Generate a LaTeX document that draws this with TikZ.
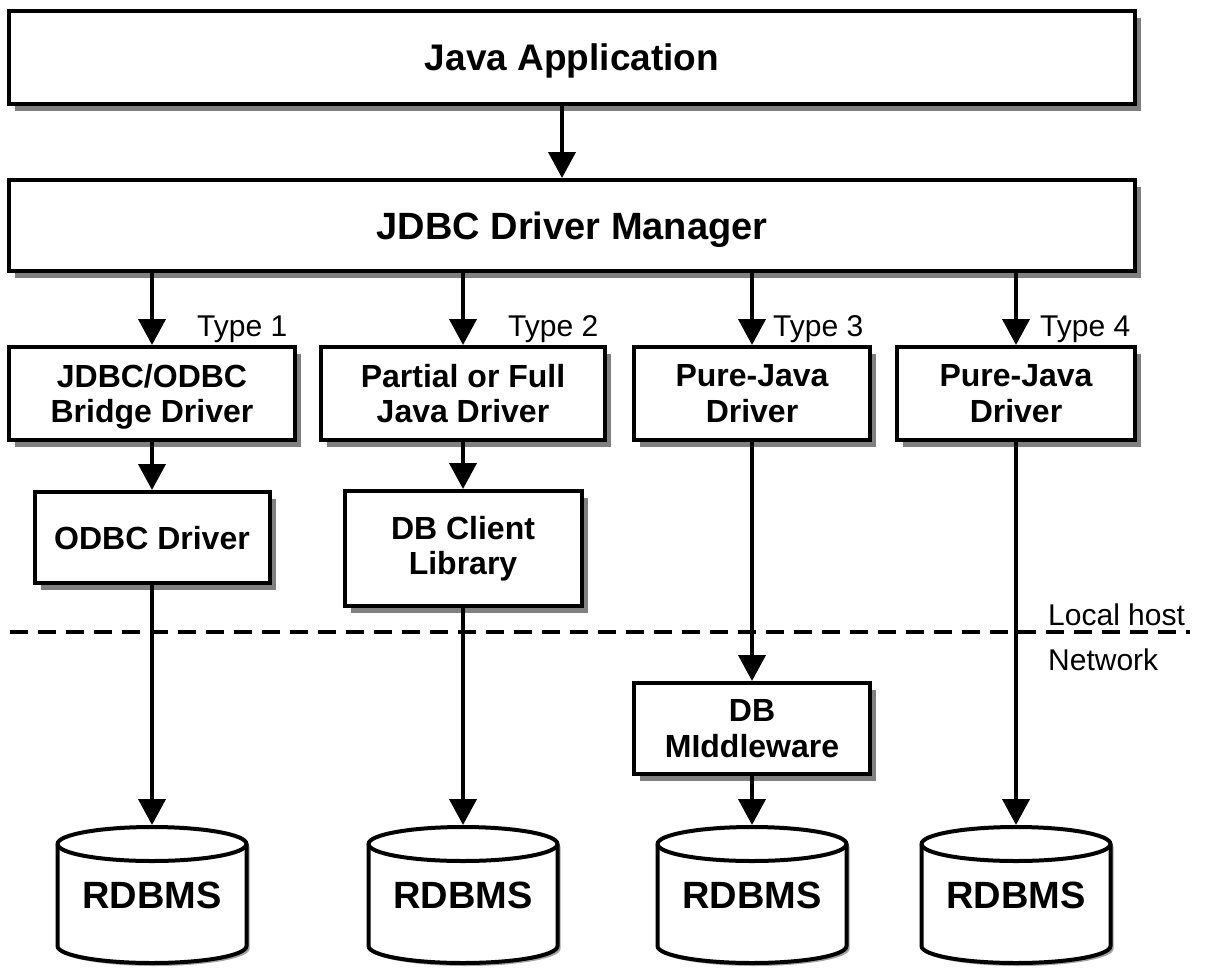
\documentclass[tikz,border=0pt]{standalone}
\usepackage{fontspec}
\setmainfont{Liberation Sans}
\usetikzlibrary{arrows.meta,shadows,backgrounds}
\begin{document}
\begin{tikzpicture}[x=1pt,y=1pt,
  box/.style={draw=black, line width=4pt, fill=white, inner sep=0pt, align=center,
     text depth=0pt,
     font=\bfseries\fontsize{32}{35.5}\selectfont,
     drop shadow={shadow xshift=6pt, shadow yshift=-7pt, opacity=1, fill=black!50}},
  bigbox/.style={box, font=\bfseries\fontsize{37}{40}\selectfont},
  db/.style={inner sep=0pt, outer sep=0pt, minimum width=193pt, minimum height=140pt,
     font=\bfseries\fontsize{38}{40}\selectfont},
  tlabel/.style={inner sep=0pt, anchor=base west, font=\fontsize{30}{34}\selectfont},
  conn/.style={line width=4pt, -{Triangle[length=26pt,width=27pt]}},
  cylline/.style={line width=4pt, fill=white},
  sepline/.style={line width=4pt, dash pattern=on 18pt off 10pt}
]
\useasboundingbox (0,0) rectangle (1208,-967);

% top boxes
\node[bigbox, minimum width=1126pt, minimum height=93pt] (app) at (572,-57.5) {Java Application};
\node[bigbox, minimum width=1126pt, minimum height=91pt, font=\bfseries\fontsize{38}{40}\selectfont] (mgr) at (572,-225.5) {JDBC Driver Manager};

% driver boxes
\node[box, minimum width=286pt, minimum height=93pt] (t1) at (152,-393.5) {JDBC/ODBC\\Bridge Driver};
\node[box, minimum width=284pt, minimum height=93pt] (t2) at (463,-393.5) {Partial or Full\\Java Driver};
\node[box, minimum width=236pt, minimum height=93pt] (t3) at (752,-393.5) {Pure-Java\\Driver};
\node[box, minimum width=238pt, minimum height=93pt] (t4) at (1016,-393.5) {Pure-Java\\Driver};

% second level
\node[box, minimum width=235pt, minimum height=91pt] (odbc) at (152,-537.5) {ODBC Driver};
\node[box, minimum width=237pt, minimum height=115pt, text depth=6pt] (dbc) at (463,-548.5) {DB Client\\Library};
\node[box, minimum width=236pt, minimum height=91pt] (mid) at (752,-728.5) {DB\\MIddleware};

% databases
\node[db] (db1) at (152,-895) {\raisebox{-7pt}{RDBMS}};
\node[db] (db2) at (463,-895) {\raisebox{-7pt}{RDBMS}};
\node[db] (db3) at (752,-895) {\raisebox{-7pt}{RDBMS}};
\node[db] (db4) at (1016,-895) {\raisebox{-7pt}{RDBMS}};

\begin{scope}[on background layer]
\foreach \n in {db1,db2,db3,db4}{
  \fill[black!35] ([xshift=5pt,yshift=-22pt]\n.north west) -- ([xshift=5pt,yshift=16pt]\n.south west)
     arc[start angle=180,end angle=360,x radius=94.5pt,y radius=17pt]
     -- ([xshift=1pt,yshift=-22pt]\n.north east)
     arc[start angle=0,end angle=180,x radius=94.5pt,y radius=17pt] -- cycle;
  \draw[cylline] ([xshift=2pt,yshift=-19pt]\n.north west) -- ([xshift=2pt,yshift=19pt]\n.south west)
     arc[start angle=180,end angle=360,x radius=94.5pt,y radius=17pt]
     -- ([xshift=-2pt,yshift=-19pt]\n.north east)
     arc[start angle=0,end angle=180,x radius=94.5pt,y radius=17pt] -- cycle;
  \draw[line width=4pt] ([xshift=2pt,yshift=-19pt]\n.north west)
     arc[start angle=180,end angle=360,x radius=94.5pt,y radius=17pt];
}
\end{scope}

% type labels
\node[tlabel] (l1) at (197,-336) {Type 1};
\node[tlabel] (l2) at (508,-336) {Type 2};
\node[tlabel] (l3) at (773,-336) {Type 3};
\node[tlabel] (l4) at (1040,-336) {Type 4};
\node[tlabel] (lh) at (1048,-625) {Local host};
\node[tlabel] (nw) at (1048,-670) {Network};

% separator
\coordinate (sepL) at (10,-632);
\coordinate (sepR) at (1190,-632);
\draw[sepline] (sepL) -- (sepR);

% connectors
\draw[conn] ([xshift=-10pt]app.south) -- ([xshift=-10pt]mgr.north);
\foreach \t in {t1,t2,t3,t4}{
  \draw[conn] (\t.north |- mgr.south) -- (\t.north);
}
\draw[conn] (t1.south) -- (odbc.north);
\draw[conn] (t2.south) -- (dbc.north);
\draw[conn] (t3.south) -- (mid.north);
\draw[conn] (t4.south) -- (db4.north);
\draw[conn] (odbc.south) -- (db1.north);
\draw[conn] (dbc.south) -- (db2.north);
\draw[conn] (mid.south) -- (db3.north);
\end{tikzpicture}
\end{document}
